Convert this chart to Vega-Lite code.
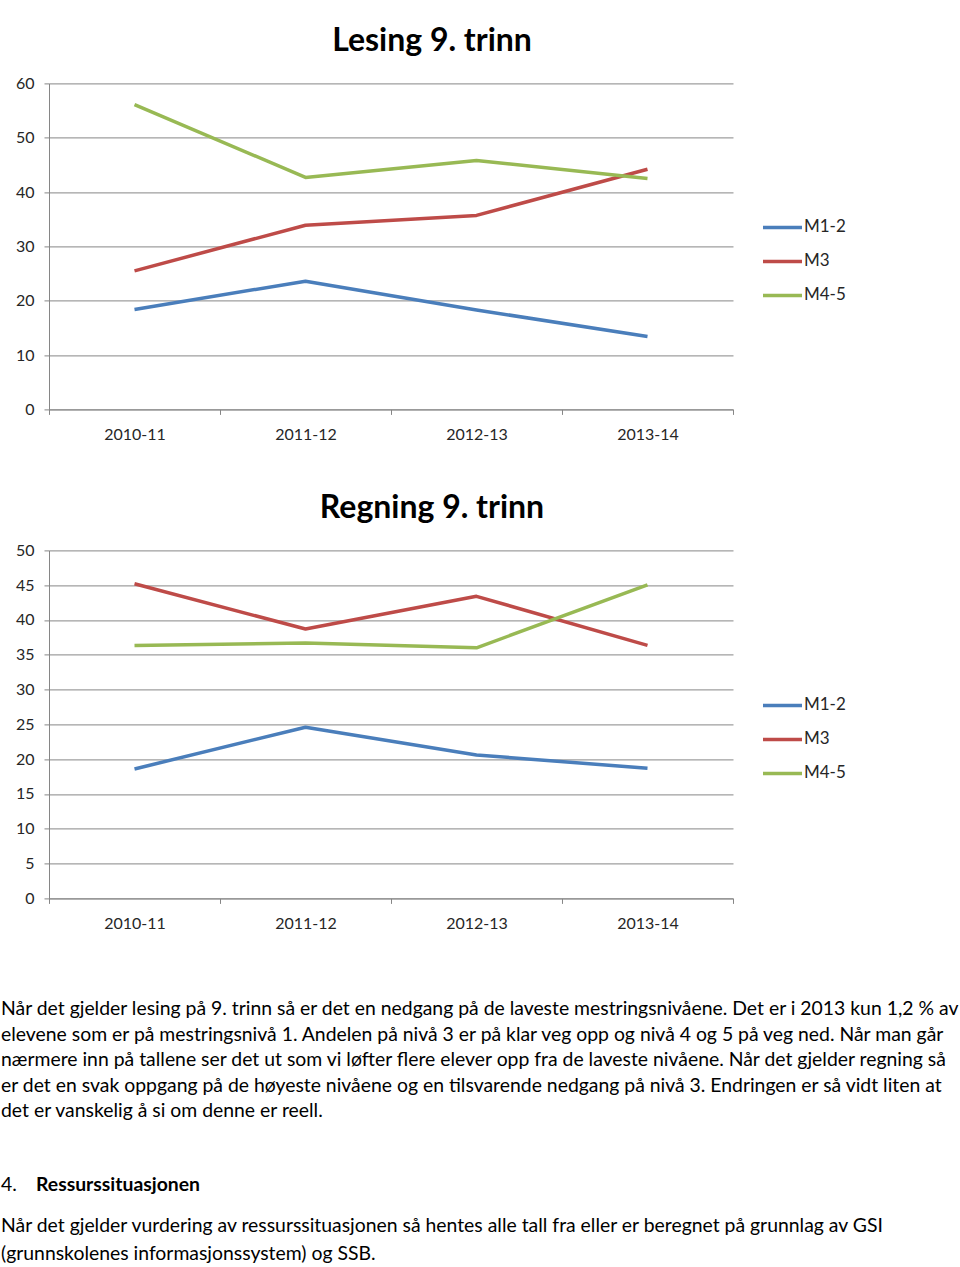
{
  "$schema": "https://vega.github.io/schema/vega-lite/v6.json",
  "background": "white",
  "autosize": {"type": "pad"},
  "padding": {"left": 1, "top": 24.4, "right": 0, "bottom": 0},
  "config": {
    "view": {"stroke": null},
    "font": "Lato",
    "axis": {"labelFont": "Lato", "titleFont": "Lato"},
    "legend": {"labelFont": "Lato"}
  },
  "datasets": {
    "lesing": [
      {"periode": "2010-11", "niva": "M1-2", "andel": 18.4},
      {"periode": "2011-12", "niva": "M1-2", "andel": 23.6},
      {"periode": "2012-13", "niva": "M1-2", "andel": 18.3},
      {"periode": "2013-14", "niva": "M1-2", "andel": 13.4},
      {"periode": "2010-11", "niva": "M3", "andel": 25.5},
      {"periode": "2011-12", "niva": "M3", "andel": 33.9},
      {"periode": "2012-13", "niva": "M3", "andel": 35.7},
      {"periode": "2013-14", "niva": "M3", "andel": 44.2},
      {"periode": "2010-11", "niva": "M4-5", "andel": 56.1},
      {"periode": "2011-12", "niva": "M4-5", "andel": 42.7},
      {"periode": "2012-13", "niva": "M4-5", "andel": 45.8},
      {"periode": "2013-14", "niva": "M4-5", "andel": 42.5}
    ],
    "regning": [
      {"periode": "2010-11", "niva": "M1-2", "andel": 18.6},
      {"periode": "2011-12", "niva": "M1-2", "andel": 24.6},
      {"periode": "2012-13", "niva": "M1-2", "andel": 20.6},
      {"periode": "2013-14", "niva": "M1-2", "andel": 18.7},
      {"periode": "2010-11", "niva": "M3", "andel": 45.2},
      {"periode": "2011-12", "niva": "M3", "andel": 38.7},
      {"periode": "2012-13", "niva": "M3", "andel": 43.4},
      {"periode": "2013-14", "niva": "M3", "andel": 36.35},
      {"periode": "2010-11", "niva": "M4-5", "andel": 36.35},
      {"periode": "2011-12", "niva": "M4-5", "andel": 36.7},
      {"periode": "2012-13", "niva": "M4-5", "andel": 36.0},
      {"periode": "2013-14", "niva": "M4-5", "andel": 45.05}
    ],
    "avsnitt1": [
      {"linje": 1, "tekst": "Når det gjelder lesing på 9. trinn så er det en nedgang på de laveste mestringsnivåene. Det er i 2013 kun 1,2 % av"},
      {"linje": 2, "tekst": "elevene som er på mestringsnivå 1. Andelen på nivå 3 er på klar veg opp og nivå 4 og 5 på veg ned. Når man går"},
      {"linje": 3, "tekst": "nærmere inn på tallene ser det ut som vi løfter flere elever opp fra de laveste nivåene. Når det gjelder regning så"},
      {"linje": 4, "tekst": "er det en svak oppgang på de høyeste nivåene og en tilsvarende nedgang på nivå 3. Endringen er så vidt liten at"},
      {"linje": 5, "tekst": "det er vanskelig å si om denne er reell."}
    ],
    "overskrift": [
      {"nr": "4.", "tittel": "Ressurssituasjonen"}
    ],
    "avsnitt2": [
      {"linje": 1, "tekst": "Når det gjelder vurdering av ressurssituasjonen så hentes alle tall fra eller er beregnet på grunnlag av GSI"},
      {"linje": 2, "tekst": "(grunnskolenes informasjonssystem) og SSB."}
    ]
  },
  "spacing": 67,
  "vconcat": [
    {
      "spacing": 49,
      "resolve": {"scale": {"color": "independent"}, "legend": {"color": "independent"}},
      "vconcat": [
        {
          "width": 684,
          "height": 326,
          "data": {"name": "lesing"},
          "title": {"text": "Lesing 9. trinn", "fontSize": 32, "fontWeight": "bold", "font": "Lato", "color": "#000000", "frame": "group", "anchor": "middle", "baseline": "alphabetic", "offset": -7.4, "dx": 41},
          "mark": {"type": "line", "strokeWidth": 3.5, "strokeJoin": "round"},
          "encoding": {
            "x": {"field": "periode", "type": "ordinal", "sort": null,
                  "scale": {"type": "band", "paddingInner": 0, "paddingOuter": 0},
                  "axis": {"title": null, "labelAngle": 0, "tickBand": "extent", "grid": false, "domainColor": "#868686", "tickColor": "#868686", "tickSize": 5, "labelPadding": 12, "labelFontSize": 16, "labelColor": "#262626"}},
            "y": {"field": "andel", "type": "quantitative",
                  "scale": {"domain": [0, 60], "nice": false},
                  "axis": {"title": null, "values": [0, 10, 20, 30, 40, 50, 60], "grid": true, "gridColor": "#868686", "domainColor": "#868686", "tickColor": "#868686", "tickSize": 5, "labelPadding": 10, "labelFontSize": 16, "labelColor": "#262626"}},
            "color": {"field": "niva", "type": "nominal",
                      "scale": {"domain": ["M1-2", "M3", "M4-5"], "range": ["#4A7EBB", "#BE4B48", "#98B954"]},
                      "legend": {"title": null, "orient": "none", "legendX": 712, "legendY": 122.5, "symbolType": "stroke", "symbolSize": 1521, "symbolStrokeWidth": 3.5, "labelFontSize": 17, "labelOffset": 0, "rowPadding": 4, "labelColor": "#262626", "padding": 0}}
          }
        },
        {
          "width": 684,
          "height": 348,
          "data": {"name": "regning"},
          "title": {"text": "Regning 9. trinn", "fontSize": 32, "fontWeight": "bold", "font": "Lato", "color": "#000000", "frame": "group", "anchor": "middle", "baseline": "alphabetic", "offset": -7.4, "dx": 41},
          "mark": {"type": "line", "strokeWidth": 3.5, "strokeJoin": "round"},
          "encoding": {
            "x": {"field": "periode", "type": "ordinal", "sort": null,
                  "scale": {"type": "band", "paddingInner": 0, "paddingOuter": 0},
                  "axis": {"title": null, "labelAngle": 0, "tickBand": "extent", "grid": false, "domainColor": "#868686", "tickColor": "#868686", "tickSize": 5, "labelPadding": 12, "labelFontSize": 16, "labelColor": "#262626"}},
            "y": {"field": "andel", "type": "quantitative",
                  "scale": {"domain": [0, 50], "nice": false},
                  "axis": {"title": null, "values": [0, 5, 10, 15, 20, 25, 30, 35, 40, 45, 50], "grid": true, "gridColor": "#868686", "domainColor": "#868686", "tickColor": "#868686", "tickSize": 5, "labelPadding": 10, "labelFontSize": 16, "labelColor": "#262626"}},
            "color": {"field": "niva", "type": "nominal",
                      "scale": {"domain": ["M1-2", "M3", "M4-5"], "range": ["#4A7EBB", "#BE4B48", "#98B954"]},
                      "legend": {"title": null, "orient": "none", "legendX": 712, "legendY": 133.5, "symbolType": "stroke", "symbolSize": 1521, "symbolStrokeWidth": 3.5, "labelFontSize": 17, "labelOffset": 0, "rowPadding": 4, "labelColor": "#262626", "padding": 0}}
          }
        }
      ]
    },
    {
      "spacing": 0,
      "vconcat": [
        {
          "width": 860,
          "height": 172.75,
          "data": {"name": "avsnitt1"},
          "mark": {"type": "text", "align": "left", "baseline": "alphabetic", "fontSize": 19.4, "font": "Lato", "color": "#000000", "dx": -48},
          "encoding": {
            "x": {"datum": 0, "type": "quantitative", "scale": {"domain": [0, 1]}, "axis": null},
            "y": {"field": "linje", "type": "ordinal", "scale": {"type": "band", "paddingInner": 0, "paddingOuter": 0.887, "align": 0}, "axis": null},
            "text": {"field": "tekst", "type": "nominal"}
          }
        },
        {
          "width": 860,
          "height": 30,
          "data": {"name": "overskrift"},
          "layer": [
            {
              "mark": {"type": "text", "align": "left", "baseline": "alphabetic", "fontSize": 19.4, "font": "Lato", "color": "#000000", "dx": -48},
              "encoding": {
                "x": {"datum": 0, "type": "quantitative", "scale": {"domain": [0, 1]}, "axis": null},
                "text": {"field": "nr", "type": "nominal"}
              }
            },
            {
              "mark": {"type": "text", "align": "left", "baseline": "alphabetic", "fontSize": 19.4, "font": "Lato", "fontWeight": "bold", "color": "#000000", "dx": -13},
              "encoding": {
                "x": {"datum": 0, "type": "quantitative", "scale": {"domain": [0, 1]}, "axis": null},
                "text": {"field": "tittel", "type": "nominal"}
              }
            }
          ]
        },
        {
          "width": 860,
          "height": 68,
          "data": {"name": "avsnitt2"},
          "mark": {"type": "text", "align": "left", "baseline": "alphabetic", "fontSize": 19.4, "font": "Lato", "color": "#000000", "dx": -48},
          "encoding": {
            "x": {"datum": 0, "type": "quantitative", "scale": {"domain": [0, 1]}, "axis": null},
            "y": {"field": "linje", "type": "ordinal", "scale": {"type": "band", "paddingInner": 0, "paddingOuter": 0.214, "align": 1}, "axis": null},
            "text": {"field": "tekst", "type": "nominal"}
          }
        }
      ]
    }
  ]
}
